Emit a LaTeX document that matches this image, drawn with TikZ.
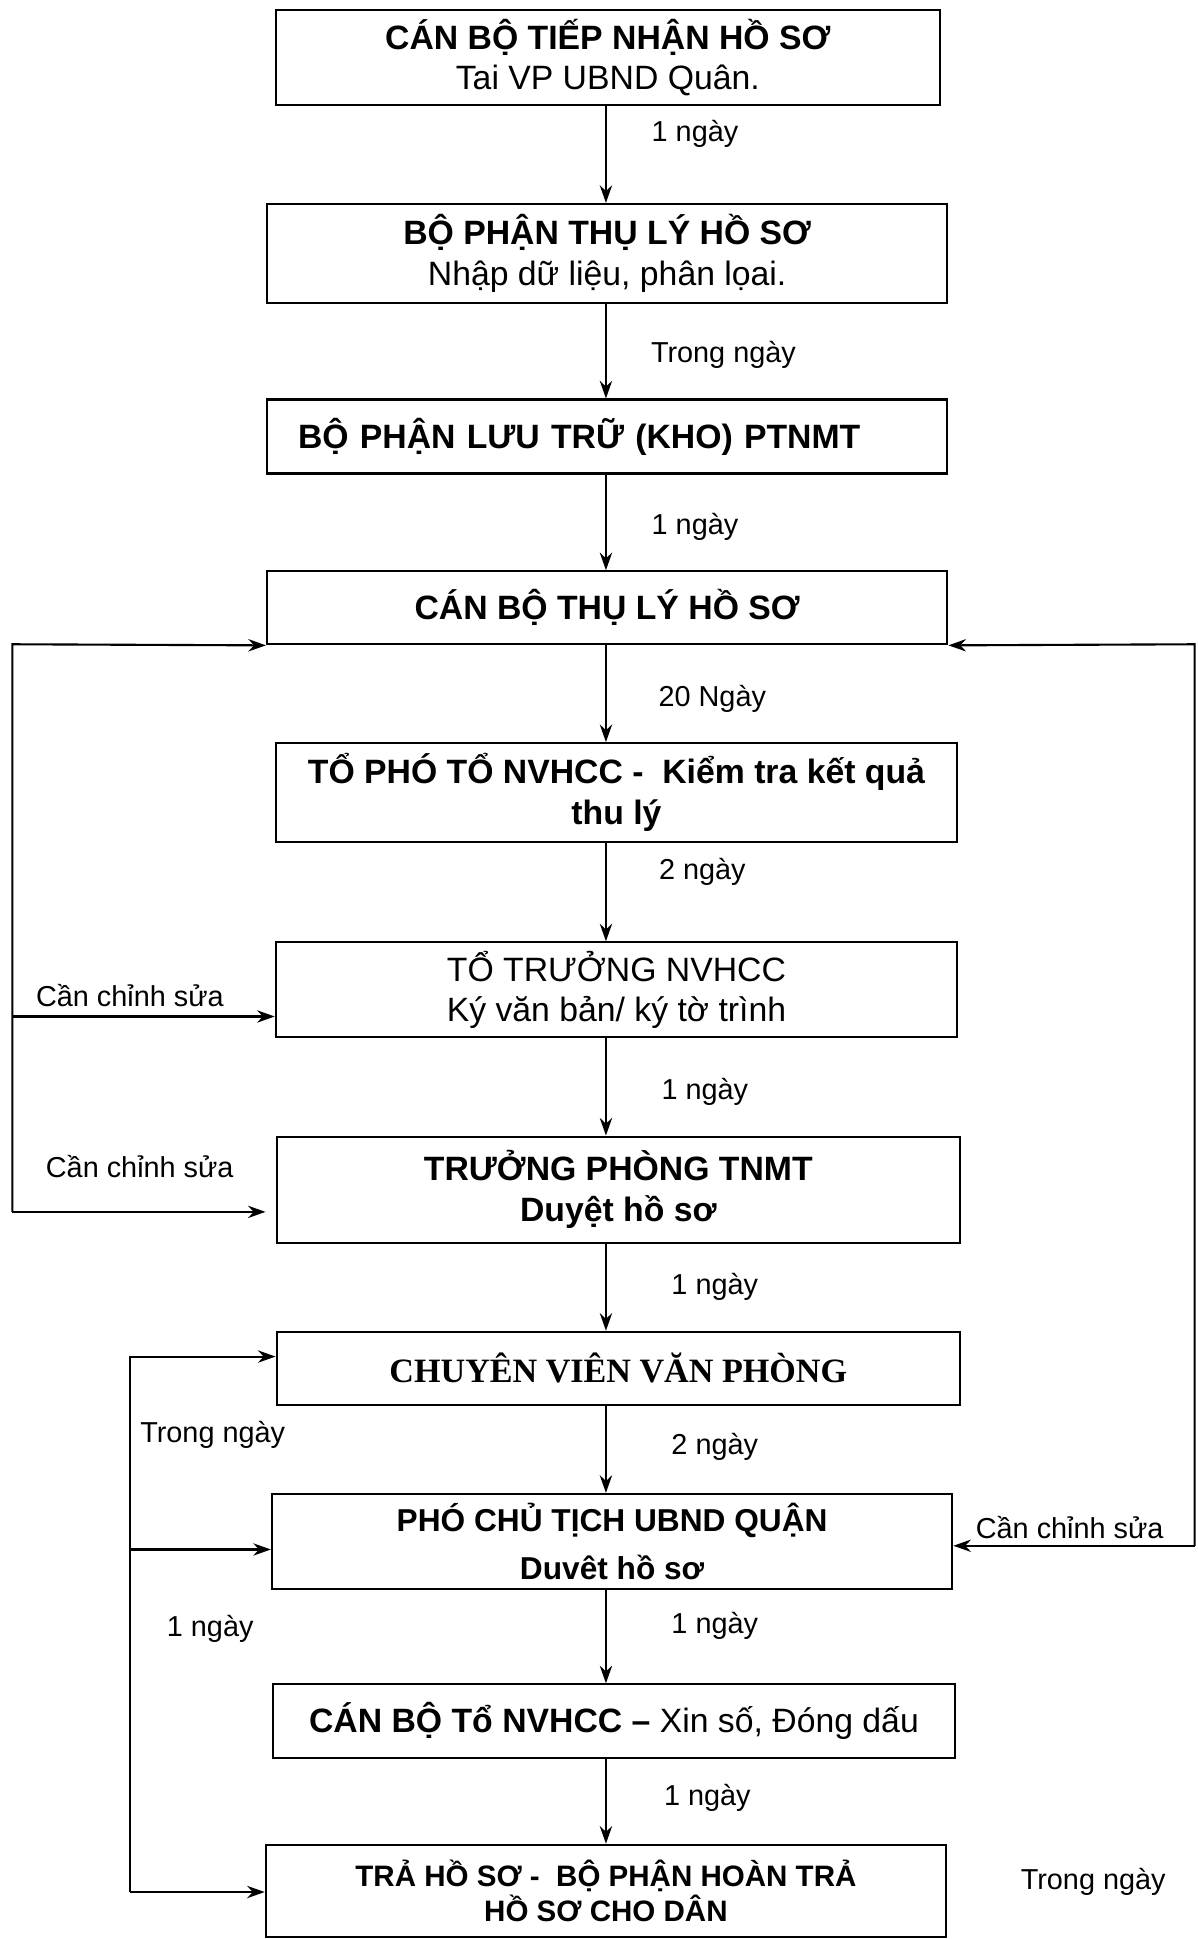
\documentclass[tikz,border=0pt]{standalone}
\usepackage{fontspec}
\setmainfont{Liberation Sans}
\newfontfamily\timesfont{Liberation Serif}
\usetikzlibrary{arrows.meta, positioning}
\tikzset{
  stepbox/.style  = {rectangle, draw=black, line width=0.6pt, align=center, inner sep=0pt, font=\fontsize{9.6}{11.6}\selectfont},
  stepbold/.style = {stepbox, font=\fontsize{9.6}{11.6}\selectfont\bfseries},
  flow/.style     = {-{Stealth[length=5pt, width=3.5pt]}, line width=0.6pt},
  dur/.style      = {inner sep=1pt, font=\fontsize{8.2}{9.8}\selectfont},
}

\begin{document}
\begin{tikzpicture}[x=0.012366cm, y=-0.012366cm]
  \useasboundingbox (0,0) rectangle (968,1568);

  % main chain of steps
  \node[stepbox, minimum width=6.64cm, minimum height=0.95cm] (b1) at (491.5,46.5) {\textbf{CÁN BỘ TIẾP NHẬN HỒ SƠ}\\Tai VP UBND Quân.};
  \node[stepbox, minimum width=6.80cm, minimum height=0.99cm] (b2) at (491,205) {\textbf{BỘ PHẬN THỤ LÝ HỒ SƠ}\\Nhập dữ liệu, phân lọai.};
  \node[stepbold, minimum width=6.80cm, minimum height=0.74cm, text width=6.18cm, align=left] (b3) at (491,353) {BỘ PHẬN LƯU TRỮ (KHO) PTNMT};
  \node[stepbold, minimum width=6.80cm, minimum height=0.73cm] (b4) at (491,491.5) {CÁN BỘ THỤ LÝ HỒ SƠ};
  \node[stepbold, minimum width=6.81cm, minimum height=0.99cm] (b5) at (498.5,641) {TỔ PHÓ TỔ NVHCC -\ \ Kiểm tra kết quả\\thu lý};
  \node[stepbox, minimum width=6.81cm, minimum height=0.95cm] (b6) at (498.5,800.5) {TỔ TRƯỞNG NVHCC\\Ký văn bản/ ký tờ trình};
  \node[stepbold, minimum width=6.83cm, minimum height=1.06cm] (b7) at (500,962) {TRƯỞNG PHÒNG TNMT\\Duyệt hồ sơ};
  \node[stepbox, minimum width=6.83cm, minimum height=0.73cm, font=\fontsize{9.7}{11.6}\timesfont\bfseries] (b8) at (500,1106.5) {CHUYÊN VIÊN VĂN PHÒNG};
  \node[stepbox, minimum width=6.80cm, minimum height=0.95cm, font=\fontsize{9}{13.7}\selectfont\bfseries] (b9) at (495,1246.5) {PHÓ CHỦ TỊCH UBND QUẬN\\Duvêt hồ sơ};
  \node[stepbox, minimum width=6.81cm, minimum height=0.74cm] (b10) at (496.5,1392) {\textbf{CÁN BỘ Tổ NVHCC –} Xin số, Đóng dấu};
  \node[stepbox, minimum width=6.80cm, minimum height=0.92cm, font=\fontsize{8.4}{9.8}\selectfont\bfseries] (b11) at (490,1529) {TRẢ HỒ SƠ -\ \ BỘ PHẬN HOÀN TRẢ\\HỒ SƠ CHO DÂN};

  \coordinate (spine) at (490,0);
  \foreach \a/\b in {b1/b2, b2/b3, b3/b4, b4/b5, b5/b6, b6/b7, b7/b8, b8/b9, b9/b10, b10/b11}
    \draw[flow] (\a.south -| spine) -- (\b.north -| spine);

  % durations
  \node[dur] (d1) at (562,108) {1 ngày};
  \node[dur] (d2) at (585,287) {Trong ngày};
  \node[dur] (d3) at (562,426) {1 ngày};
  \node[dur] (d4) at (576,565) {20 Ngày};
  \node[dur] (d5) at (568,705) {2 ngày};
  \node[dur] (d6) at (570,883) {1 ngày};
  \node[dur] (d7) at (578,1041) {1 ngày};
  \node[dur] (d8) at (578,1170) {2 ngày};
  \node[dur] (d9) at (578,1315) {1 ngày};
  \node[dur] (d10) at (572,1454) {1 ngày};

  % left return loop
  \coordinate (l4) at (10,521);
  \coordinate (l6) at (10,822);
  \coordinate (l7) at (10,980);
  \draw[flow] (l7) -- (l4) -- (b4.south west);
  \draw[flow] (l6) -- (l6 -| b6.west);
  \draw[flow] (l7) -- ([xshift=-0.1cm]l7 -| b7.west);
  \node[dur] (fix1) at (105,805) {Cần chỉnh sửa};
  \node[dur] (fix2) at (113,943) {Cần chỉnh sửa};

  % right return loop
  \coordinate (r4) at (966,521);
  \coordinate (r9) at (966,1250);
  \draw[flow] (r9) -- (r4) -- (b4.south east);
  \draw[flow] (r9) -- (r9 -| b9.east);
  \node[dur] (fix3) at (865,1235) {Cần chỉnh sửa};

  % inner left loop
  \coordinate (i8) at (105,1097);
  \coordinate (i9) at (105,1253);
  \coordinate (i11) at (105,1530);
  \draw[flow] (i11) -- (i8) -- (i8 -| b8.west);
  \draw[flow] (i9) -- (i9 -| b9.west);
  \draw[flow] (i11) -- (i11 -| b11.west);
  \node[dur] (in1) at (172,1160) {Trong ngày};
  \node[dur] (in2) at (170,1317) {1 ngày};
  \node[dur] (out1) at (884,1522) {Trong ngày};
\end{tikzpicture}
\end{document}
